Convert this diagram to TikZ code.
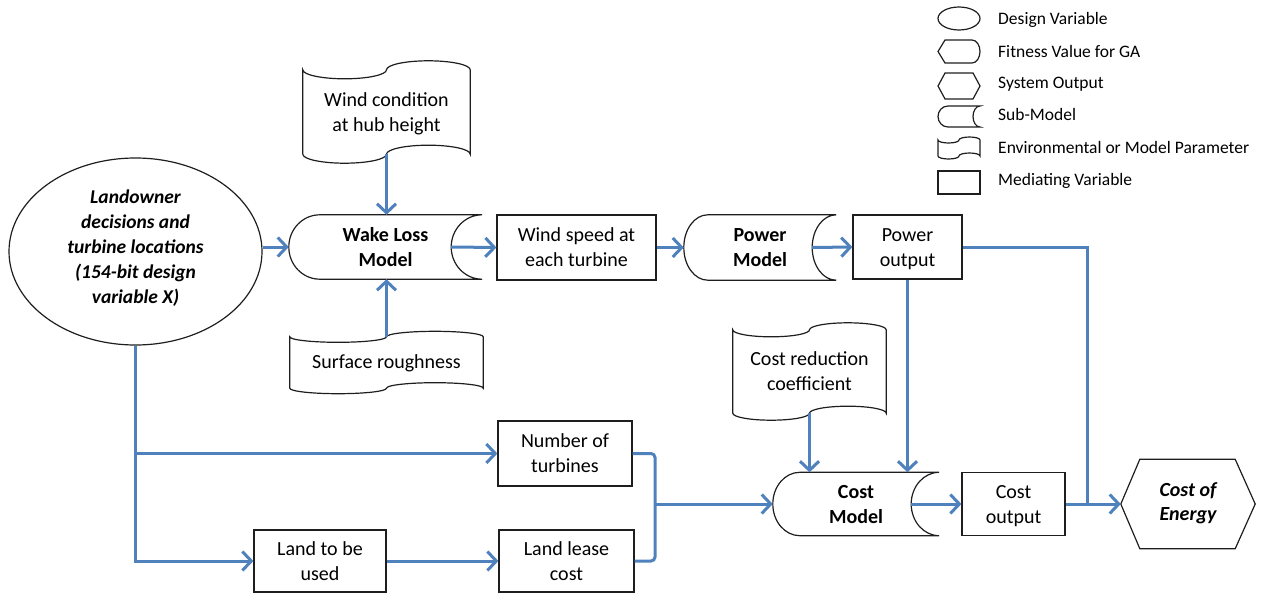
\documentclass[tikz,border=0pt]{standalone}
\usepackage{fontspec}
\setmainfont{Carlito}
\usetikzlibrary{arrows.meta,shapes.geometric,calc}
\definecolor{flowblue}{RGB}{79,129,189}
\definecolor{edgegray}{RGB}{30,30,30}

\tikzset{
  x=1pt, y=1pt,
  outline/.style={draw=edgegray, line width=1.2pt},
  flow/.style={draw=flowblue, line width=3pt, -{Straight Barb[length=9pt,width=19pt]}},
  link/.style={draw=flowblue, line width=3pt},
  holder/.style={inner sep=0pt, align=center, text height=38.5pt, text depth=0pt,
                 font=\fontsize{20}{25}\selectfont},
  boldholder/.style={holder, font=\fontsize{20}{25}\selectfont\bfseries},
  mediating/.style={holder, draw=edgegray, line width=1.2pt},
  legendtext/.style={inner sep=0pt, anchor=base west, font=\fontsize{17.5}{20}\selectfont},
}

% sub-model outline: rounded left end, concave right end
\newcommand\submodeloutline[3]{%
  \draw[outline] let \p1=(#1.north), \p2=(#1.south), \n1={(\y1-\y2)/2} in
    ($(#1.north west)+(#2,0)$) -- (#1.north east)
    arc[start angle=90, end angle=270, x radius=#3pt, y radius=\n1]
    -- ($(#1.south west)+(#2,0)$)
    arc[start angle=270, end angle=90, x radius=#2pt, y radius=\n1] -- cycle;}

% punched-tape outline for parameters
\newcommand\tapeoutline[2]{%
  \draw[outline] let \p1=(#1.north west), \p2=(#1.south east), \n1={(\x2-\x1)/4} in
    (\p1) arc[start angle=180, end angle=360, x radius=\n1, y radius=#2pt]
          arc[start angle=180, end angle=0, x radius=\n1, y radius=#2pt]
    -- (\x2,\y2)
          arc[start angle=0, end angle=180, x radius=\n1, y radius=#2pt]
          arc[start angle=0, end angle=-180, x radius=\n1, y radius=#2pt] -- cycle;}

\begin{document}
\begin{tikzpicture}
\useasboundingbox (0,0) rectangle (1263,-594);

% design variable
\node[holder, ellipse, draw=edgegray, line width=1.2pt, minimum width=253pt, minimum height=187pt,
      text height=104pt, font=\fontsize{19.5}{25}\selectfont\bfseries\itshape] (dv) at (135.5,-251.5)
  {Landowner\\decisions and\\turbine locations\\(154-bit design\\variable X)};

% parameters
\node[holder, minimum width=167pt, minimum height=84pt] (windc) at (386.5,-112) {Wind condition\\at hub height};
\tapeoutline{windc}{9}
\node[holder, minimum width=193pt, minimum height=51pt, text height=12pt] (surf) at (386.5,-362.5) {Surface roughness};
\tapeoutline{surf}{5.5}
\node[holder, minimum width=153pt, minimum height=83pt, text height=37pt] (costred) at (809.5,-371.5) {Cost reduction\\coefficient};
\tapeoutline{costred}{7}

% sub-models
\node[boldholder, minimum width=193pt, minimum height=64pt] (wake) at (385.5,-247) {Wake Loss\\Model};
\submodeloutline{wake}{31}{31}
\node[boldholder, minimum width=152pt, minimum height=65pt] (power) at (760,-247.5) {Power\\Model};
\submodeloutline{power}{24}{24}
\node[boldholder, minimum width=166pt, minimum height=63pt] (costm) at (856,-504) {Cost\\Model};
\submodeloutline{costm}{27}{28}

% mediating variables
\node[mediating, minimum width=159pt, minimum height=65pt] (wspeed) at (576.5,-247.5) {Wind speed at\\each turbine};
\node[mediating, minimum width=109pt, minimum height=64pt] (pout) at (907.5,-247) {Power\\output};
\node[mediating, minimum width=103pt, minimum height=63pt] (cout) at (1013.5,-504) {Cost\\output};
\node[mediating, minimum width=134pt, minimum height=65pt] (numturb) at (565,-453.5) {Number of\\turbines};
\node[mediating, minimum width=135pt, minimum height=62pt] (landlease) at (566.5,-561) {Land lease\\cost};
\node[mediating, minimum width=132pt, minimum height=62pt] (landused) at (320,-561) {Land to be\\used};

% system output
\node[holder, minimum width=134pt, minimum height=89pt, text height=32pt,
      font=\fontsize{20}{24}\selectfont\bfseries\itshape] (coe) at (1188,-504) {Cost of\\Energy};
\draw[outline] (coe.west) -- ($(coe.north west)+(19,0)$) -- ($(coe.north east)+(-20,0)$) -- (coe.east)
  -- ($(coe.south east)+(-20,0)$) -- ($(coe.south west)+(19,0)$) -- cycle;

% connectors
\draw[flow] (dv.east |- wake.west) -- (wake.west);
\draw[flow] (windc.south) -- (windc.south |- wake.north);
\draw[flow] (surf.north) -- (surf.north |- wake.south);
\draw[flow] ($(wake.east)+(-31,0)$) -- (wspeed.west);
\draw[flow] (wspeed.east) -- (power.west);
\draw[flow] ($(power.east)+(-24,0)$) -- (pout.west);
\draw[flow] (pout.south) -- (pout.south |- costm.north);
\draw[flow] (costred.south) -- (costred.south |- costm.north);
\draw[flow] ($(costm.east)+(-28,0)$) -- (cout.west);
\coordinate (jn) at (1087,-504);
\draw[link] (pout.east) -| (jn);
\draw[flow] (cout.east) -- (coe.west);
\draw[flow] (dv.south) |- (landused.west);
\draw[flow] (dv.south |- numturb.west) -- (numturb.west);
\draw[flow] (landused.east) -- (landlease.west);
\coordinate (brk) at (655,-504);
\draw[link, rounded corners=4pt] (numturb.east) -| (brk) |- (landlease.east);
\draw[flow] (brk) -- (costm.west);

% legend symbols
\draw[outline] (959,-18.5) ellipse [x radius=21, y radius=11.5];
\draw[outline] (938,-51.5) -- (945,-40) -- (972,-40) arc[start angle=90, end angle=-90, x radius=8, y radius=11.5]
  -- (945,-63) -- cycle;
\draw[outline] (938,-86) -- (945,-73) -- (973,-73) -- (980,-86) -- (973,-99) -- (945,-99) -- cycle;
\draw[outline] (948,-106) -- (980,-106) arc[start angle=90, end angle=270, x radius=7, y radius=10.5]
  -- (948,-127) arc[start angle=270, end angle=90, x radius=10, y radius=10.5] -- cycle;
\draw[outline] (938,-140) arc[start angle=180, end angle=360, x radius=10.5, y radius=3]
  arc[start angle=180, end angle=0, x radius=10.5, y radius=3] -- (980,-156)
  arc[start angle=0, end angle=180, x radius=10.5, y radius=3]
  arc[start angle=0, end angle=-180, x radius=10.5, y radius=3] -- cycle;
\draw[outline] (938,-171) rectangle (980,-194);

% legend labels
\node[legendtext] (lg1) at (998,-24.3) {Design Variable};
\node[legendtext] (lg2) at (998,-57.3) {Fitness Value for GA};
\node[legendtext] (lg3) at (998,-88.3) {System Output};
\node[legendtext] (lg4) at (998,-120.7) {Sub-Model};
\node[legendtext] (lg5) at (998,-153.3) {Environmental or Model Parameter};
\node[legendtext] (lg6) at (998,-185) {Mediating Variable};
\end{tikzpicture}
\end{document}
